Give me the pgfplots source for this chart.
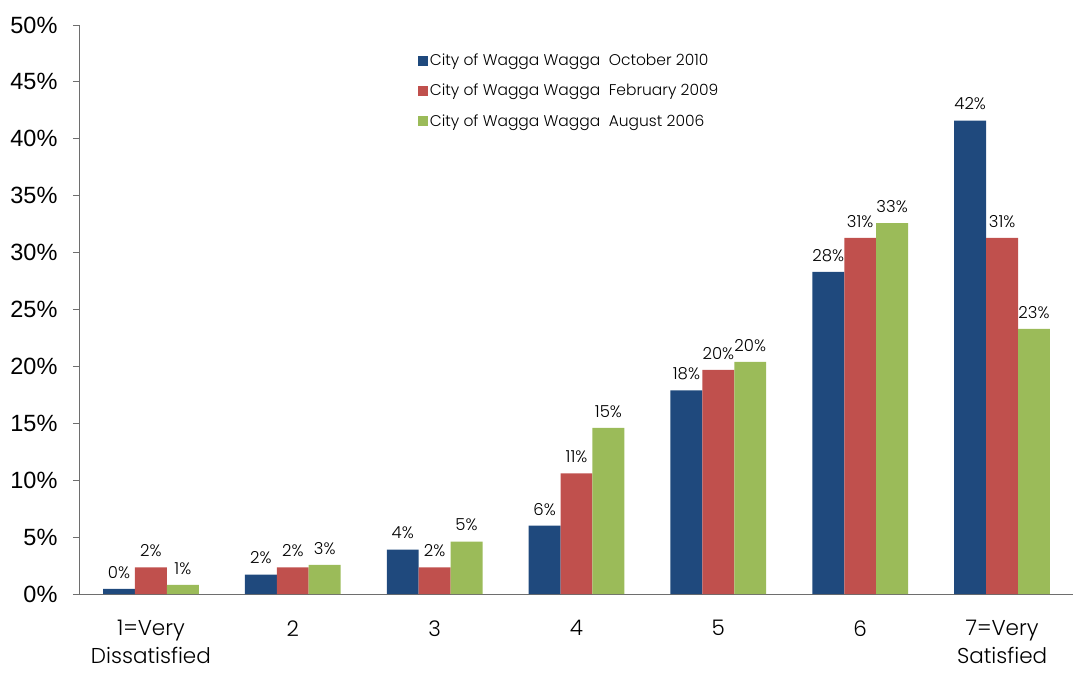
\documentclass[border=0pt]{standalone}
\usepackage{pgfplots}
\pgfplotsset{compat=1.18}
\usepackage{fontspec}
\setmainfont{Poppins}[UprightFont={* Light}]
\newfontfamily\tickfont{Liberation Sans}
\definecolor{cblue}{HTML}{1F497D}
\definecolor{cred}{HTML}{C0504D}
\definecolor{cgreen}{HTML}{9BBB59}
\definecolor{axgray}{HTML}{6E6E6E}
\begin{document}
\begin{tikzpicture}[x=1pt,y=1pt]
\useasboundingbox (-80,-79) rectangle (993,594);
\begin{axis}[
  at={(0,0)}, anchor=south west,
  scale only axis, width=993pt, height=569pt,
  ymin=0, ymax=50, ytick={0,5,...,50},
  xmin=0.5, xmax=7.5,
  axis x line*=bottom, axis y line*=left,
  axis line style={axgray, line width=1pt},
  every tick/.style={axgray, line width=1pt},
  ytick align=outside, major tick length=7pt,
  yticklabel={\pgfmathprintnumber{\tick}\%},
  yticklabel style={font=\tickfont\fontsize{23.5}{26}\selectfont, text=black, xshift=-12pt},
  /pgf/number format/assume math mode=true,
  xtick={1,...,7},
  xticklabels={1=Very\\Dissatisfied,2,3,4,5,6,7=Very\\Satisfied},
  xticklabel style={font=\fontsize{21.5}{28}\selectfont, align=center, text=black, yshift=-16pt},
  xtick style={draw=none},
  extra x ticks={1.5,2.5,3.5,4.5,5.5,6.5},
  extra x tick labels={},
  extra x tick style={tick align=outside, major tick length=8pt, tick style={axgray, line width=1pt}},
  ybar=0pt, bar width=0.225,
  nodes near coords={\pgfmathprintnumber[fixed,precision=0]{\pgfplotspointmeta}\%},
  every node near coord/.append style={font=\fontsize{16.5}{18}\selectfont, text=black, yshift=7pt},
  legend style={at={(0.34,0.953)}, anchor=north west, draw=none, fill=none,
    font=\fontsize{15.5}{18}\selectfont, row sep=13pt, inner sep=0pt},
  legend cell align=left,
  legend image code/.code={\fill[#1] (0pt,-5pt) rectangle (10pt,5pt);},
  clip=false,
]
\addplot[fill=cblue, draw=none, bar shift=-0.225] coordinates {
(1,0.44) (2,1.7) (3,3.9) (4,6.0) (5,17.9) (6,28.3) (7,41.6)};
\addlegendentry{City of Wagga Wagga\ \ October 2010}
\addplot[fill=cred, draw=none, bar shift=0] coordinates {
(1,2.35) (2,2.35) (3,2.35) (4,10.6) (5,19.7) (6,31.3) (7,31.3)};
\addlegendentry{City of Wagga Wagga\ \ February 2009}
\addplot[fill=cgreen, draw=none, bar shift=0.225] coordinates {
(1,0.8) (2,2.55) (3,4.6) (4,14.6) (5,20.4) (6,32.6) (7,23.3)};
\addlegendentry{City of Wagga Wagga\ \ August 2006}
\end{axis}
\end{tikzpicture}
\end{document}
